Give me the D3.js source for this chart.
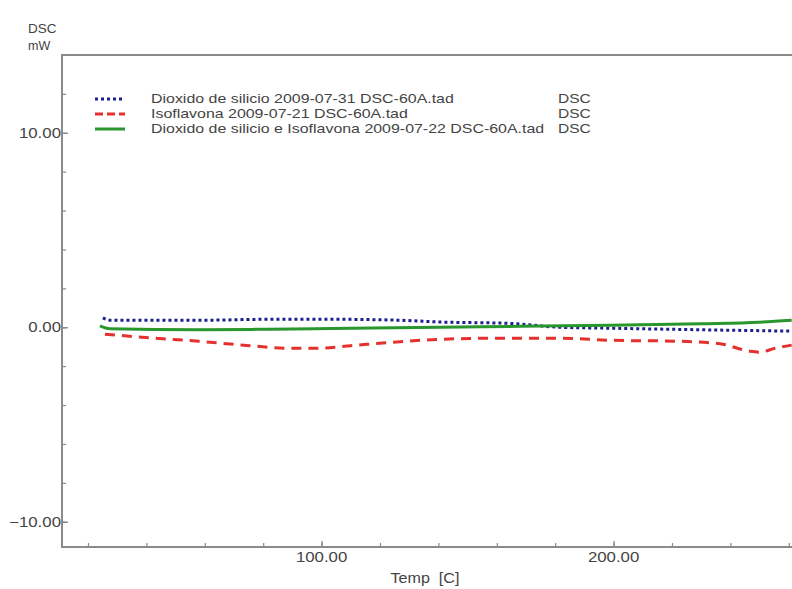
<!DOCTYPE html>
<html>
<head>
<meta charset="utf-8">
<script src="https://cdn.jsdelivr.net/npm/d3@7"></script>
<style>
  body { margin: 0; background: #fff; }
  svg { display: block; font-family: "Liberation Sans", Arial, sans-serif; }
</style>
</head>
<body>
<svg width="792" height="589"></svg>
<script>
// 温度 [C]
const silicaTemp = [25.1, 27.5, 41, 58, 82, 103, 127, 140.5, 164.5, 181.5, 199, 230, 261]
const silicaDsc = [0.48, 0.36, 0.36, 0.36, 0.41, 0.41, 0.36, 0.27, 0.2, 0.0, -0.05, -0.13, -0.2]

const isoTemp = [25.8, 41, 58, 75.5, 89, 99.5, 110, 127, 140.5, 161, 181.5, 199, 222.5, 236.5, 246.5, 250, 255.3, 261]
const isoDsc = [-0.36, -0.54, -0.72, -0.95, -1.08, -1.08, -0.95, -0.74, -0.62, -0.56, -0.56, -0.67, -0.72, -0.85, -1.23, -1.28, -1.08, -0.92]

const mixTemp = [24.1, 27.5, 58, 82, 110, 140.5, 168, 199, 230, 250, 261]
const mixDsc = [0.07, -0.08, -0.13, -0.1, -0.05, 0.0, 0.05, 0.1, 0.18, 0.26, 0.36]

const legendNames = [
  'Dioxido de silicio 2009-07-31 DSC-60A.tad',
  'Isoflavona 2009-07-21 DSC-60A.tad',
  'Dioxido de silicio e Isoflavona 2009-07-22 DSC-60A.tad'
]
const yTickLabels = [-10, 0, 10]
const xTickLabels = [100, 200]

const svg = d3.select('svg')

// 描画領域 (右端は画面外に切れている)
const plotLeft = 62
const plotRight = 792
const plotTop = 55
const plotBottom = 547

const x = d3.scaleLinear().domain([11.1, 261.1]).range([plotLeft, plotRight])
const y = d3.scaleLinear().domain([-11.3, 14]).range([plotBottom, plotTop])

const axisColor = '#8a8a8a'
const textColor = '#444'

// 元画像の文字は横に少し引き伸ばされているので、幅を合わせる
const stretch = (sel, k) => sel.each(function () {
  const w = this.getComputedTextLength()
  d3.select(this).attr('textLength', w * k).attr('lengthAdjust', 'spacingAndGlyphs')
})

// y軸 (目盛は内向き)
const yMinor = d3.range(-10, 13, 2)
svg.append('g')
  .attr('transform', `translate(${plotLeft},0)`)
  .call(d3.axisRight(y).tickValues(yMinor).tickSize(4).tickFormat(''))
  .call(g => g.select('.domain').remove())
  .call(g => g.selectAll('line').attr('stroke', axisColor).attr('stroke-width', 1.2))

svg.append('g')
  .attr('transform', `translate(${plotLeft},0)`)
  .call(d3.axisRight(y).tickValues(yTickLabels).tickSize(6).tickFormat(''))
  .call(g => g.select('.domain').remove())
  .call(g => g.selectAll('line').attr('stroke', axisColor).attr('stroke-width', 1.4))

svg.append('g')
  .selectAll('text')
  .data(yTickLabels)
  .enter()
  .append('text')
  .attr('x', plotLeft - 1)
  .attr('y', d => y(d) + 5)
  .attr('text-anchor', 'end')
  .attr('font-size', 14)
  .attr('fill', textColor)
  .text(d => d3.format('.2f')(d))
  .call(stretch, 1.2)

// x軸 (目盛は上向き)
const xMinor = d3.range(20, 261, 20)
svg.append('g')
  .attr('transform', `translate(0,${plotBottom})`)
  .call(d3.axisTop(x).tickValues(xMinor).tickSize(4).tickFormat(''))
  .call(g => g.select('.domain').remove())
  .call(g => g.selectAll('line').attr('stroke', axisColor).attr('stroke-width', 1.2))

svg.append('g')
  .attr('transform', `translate(0,${plotBottom})`)
  .call(d3.axisTop(x).tickValues(xTickLabels).tickSize(6).tickFormat(''))
  .call(g => g.select('.domain').remove())
  .call(g => g.selectAll('line').attr('stroke', axisColor).attr('stroke-width', 1.4))

svg.append('g')
  .selectAll('text')
  .data(xTickLabels)
  .enter()
  .append('text')
  .attr('x', d => x(d))
  .attr('y', plotBottom + 15)
  .attr('text-anchor', 'middle')
  .attr('font-size', 14)
  .attr('fill', textColor)
  .text(d => d3.format('.2f')(d))
  .call(stretch, 1.2)

// 枠線
svg.append('path')
  .attr('d', `M${plotRight},${plotTop}H${plotLeft}V${plotBottom}H${plotRight}`)
  .attr('fill', 'none')
  .attr('stroke', axisColor)
  .attr('stroke-width', 2)

// 軸ラベル
svg.append('text').attr('x', 28).attr('y', 33).attr('font-size', 13.5).attr('fill', textColor).text('DSC')
svg.append('text').attr('x', 28).attr('y', 50).attr('font-size', 12.5).attr('fill', textColor).text('mW')
svg.append('text').attr('x', 425).attr('y', 583).attr('text-anchor', 'middle')
  .style('white-space', 'pre')
  .attr('font-size', 14).attr('fill', textColor).text('Temp  [C]')
  .call(stretch, 1.15)

// データ線
const series = [
  { t: silicaTemp, v: silicaDsc, color: '#1c1f8f', dash: '3,3', width: 3 },
  { t: isoTemp, v: isoDsc, color: '#e4312d', dash: '10,7', width: 3 },
  { t: mixTemp, v: mixDsc, color: '#2a962e', dash: null, width: 3 }
]

const line = d3.line()
  .x(d => x(d[0]))
  .y(d => y(d[1]))
  .curve(d3.curveMonotoneX)

svg.append('clipPath').attr('id', 'plot')
  .append('rect').attr('x', plotLeft).attr('y', plotTop).attr('width', plotRight - plotLeft).attr('height', plotBottom - plotTop)

const plot = svg.append('g').attr('clip-path', 'url(#plot)')
series.forEach(s => {
  plot.append('path')
    .datum(d3.zip(s.t, s.v))
    .attr('d', line)
    .attr('fill', 'none')
    .attr('stroke', s.color)
    .attr('stroke-width', s.width)
    .attr('stroke-dasharray', s.dash)
})

// 凡例
const legend = svg.append('g')
series.forEach((s, i) => {
  const ly = 99 + i * 15
  legend.append('line')
    .attr('x1', 95).attr('x2', 125).attr('y1', ly).attr('y2', ly)
    .attr('stroke', s.color)
    .attr('stroke-width', 3)
    .attr('stroke-dasharray', i === 0 ? '3,3' : (i === 1 ? '8,4' : null))
  legend.append('text')
    .attr('x', 151).attr('y', ly + 4)
    .attr('font-size', 13.5)
    .attr('fill', textColor)
    .text(legendNames[i])
    .call(stretch, 1.18)
  legend.append('text')
    .attr('x', 558).attr('y', ly + 4)
    .attr('font-size', 13.5)
    .attr('fill', textColor)
    .text('DSC')
    .call(stretch, 1.15)
})
</script>
</body>
</html>
